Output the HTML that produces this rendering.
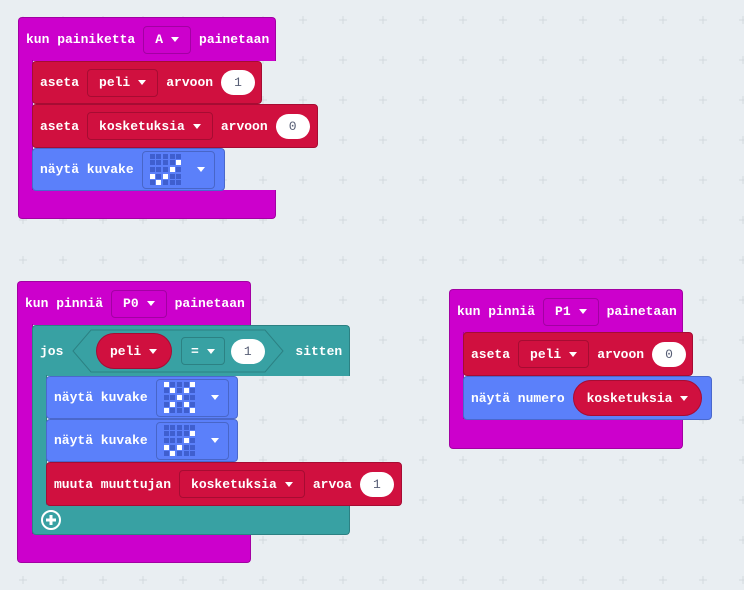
<!DOCTYPE html>
<html><head><meta charset="utf-8"><style>
body{margin:0;width:744px;height:590px;overflow:hidden;background:#e9eef2;position:relative;font-family:"Liberation Mono",monospace;font-weight:bold;font-size:13px;color:#fff}
.grid{position:absolute;left:0;top:0}
.b{position:absolute;box-sizing:border-box;display:flex;align-items:center;padding-left:7px;white-space:pre;border-radius:4px}
.m{background:#cc00cc;border:1px solid #a300a3}
.r{background:#d0103f;border:1px solid #a60c33}
.bl{background:#5b80fa;border:1px solid #4a68cc}
.t{background:#38a1a3;border:1px solid #2c8183}
.dd{display:inline-flex;align-items:center;height:28px;box-sizing:border-box;border:1px solid rgba(0,0,0,.2);border-radius:4px;padding:0 11px;margin:0 8px}
.tri{display:inline-block;width:0;height:0;border-left:4.5px solid transparent;border-right:4.5px solid transparent;border-top:5px solid #fff;margin-left:8px}
.num{display:inline-flex;align-items:center;justify-content:center;background:#fff;color:#575e75;font-weight:normal;height:25px;min-width:34px;border-radius:13px;margin-left:8px}
.pill{display:inline-flex;align-items:center;height:36px;border-radius:18px;background:#d0103f;border:1px solid #a60c33;padding:0 13px;box-sizing:border-box}
.ic{display:inline-flex;align-items:center;height:38px;box-sizing:border-box;border:1px solid rgba(0,0,0,.2);border-radius:4px;padding:0 9px 0 7px;margin-left:8px}
.ic .tri{margin-left:0}
.px{display:grid;grid-template-columns:repeat(5,5px);grid-auto-rows:5px;grid-gap:1.7px;margin-right:16px}
.px i{width:5px;height:5px;background:#3f5fcf}.px i.o{background:#fff}
</style></head><body>
<svg class="grid" width="744" height="590"><defs><pattern id="p" x="3" y="0" width="40" height="40" patternUnits="userSpaceOnUse"><path d="M20 16v8M16 20h8" stroke="#d3d9de" stroke-width="1"/></pattern></defs><rect width="744" height="590" fill="url(#p)"/></svg>

<!-- block 1 -->
<div class="b m" style="left:18px;top:17px;width:258px;height:44px;border-bottom:none;border-radius:4px 4px 0 0">kun painiketta<span class="dd">A<span class="tri"></span></span>painetaan</div>
<div class="b m" style="left:18px;top:60px;width:15px;height:131px;border-top:none;border-bottom:none;border-radius:0"></div>
<div class="b m" style="left:18px;top:190px;width:258px;height:29px;border-top:none;border-radius:0 0 4px 4px"></div>
<div class="b r" style="left:32px;top:61px;width:230px;height:43px">aseta<span class="dd">peli<span class="tri"></span></span>arvoon<span class="num">1</span></div>
<div class="b r" style="left:32px;top:104px;width:286px;height:44px">aseta<span class="dd">kosketuksia<span class="tri"></span></span>arvoon<span class="num">0</span></div>
<div class="b bl" style="left:32px;top:148px;width:193px;height:43px">näytä kuvake<span class="ic"><span class="px"><i></i><i></i><i></i><i></i><i></i><i></i><i></i><i></i><i></i><i class="o"></i><i></i><i></i><i></i><i class="o"></i><i></i><i class="o"></i><i></i><i class="o"></i><i></i><i></i><i></i><i class="o"></i><i></i><i></i><i></i></span><span class="tri"></span></span></div>

<!-- block 2 -->
<div class="b m" style="left:17px;top:281px;width:234px;height:44px;border-bottom:none;border-radius:4px 4px 0 0">kun pinniä<span class="dd">P0<span class="tri"></span></span>painetaan</div>
<div class="b m" style="left:17px;top:324px;width:16px;height:211px;border-top:none;border-bottom:none;border-radius:0"></div>
<div class="b m" style="left:17px;top:534px;width:234px;height:29px;border-top:none;border-radius:0 0 4px 4px"></div>
<div class="b t" style="left:32px;top:325px;width:318px;height:51px;border-bottom:none;border-radius:4px 4px 0 0">jos<svg width="214" height="46" style="margin-left:8px"><path d="M20 2H194L212 23L194 44H20L2 23Z" fill="#38a1a3" stroke="#2c8183"/></svg><span style="margin-left:10px">sitten</span></div>
<div style="position:absolute;left:96px;top:333px;display:flex;align-items:center"><span class="pill" style="width:76px">peli<span class="tri"></span></span><span class="dd" style="border-color:#2c8183;margin-left:9px;margin-right:0;padding:0 9px">=<span class="tri"></span></span><span class="num" style="margin-left:6px">1</span></div>
<div class="b t" style="left:32px;top:375px;width:15px;height:131px;border-top:none;border-bottom:none;border-radius:0"></div>
<div class="b t" style="left:32px;top:505px;width:318px;height:30px;border-top:none;border-radius:0 0 4px 4px"><svg width="22" height="22" style="margin-left:0"><circle cx="11" cy="11" r="9" fill="none" stroke="#fff" stroke-width="2"/><path d="M11 6v10M6 11h10" stroke="#fff" stroke-width="3"/></svg></div>
<div class="b bl" style="left:46px;top:376px;width:192px;height:43px">näytä kuvake<span class="ic"><span class="px"><i class="o"></i><i></i><i></i><i></i><i class="o"></i><i></i><i class="o"></i><i></i><i class="o"></i><i></i><i></i><i></i><i class="o"></i><i></i><i></i><i></i><i class="o"></i><i></i><i class="o"></i><i></i><i class="o"></i><i></i><i></i><i></i><i class="o"></i></span><span class="tri"></span></span></div>
<div class="b bl" style="left:46px;top:419px;width:192px;height:43px">näytä kuvake<span class="ic"><span class="px"><i></i><i></i><i></i><i></i><i></i><i></i><i></i><i></i><i></i><i class="o"></i><i></i><i></i><i></i><i class="o"></i><i></i><i class="o"></i><i></i><i class="o"></i><i></i><i></i><i></i><i class="o"></i><i></i><i></i><i></i></span><span class="tri"></span></span></div>
<div class="b r" style="left:46px;top:462px;width:356px;height:44px">muuta muuttujan<span class="dd">kosketuksia<span class="tri"></span></span>arvoa<span class="num">1</span></div>

<!-- block 3 -->
<div class="b m" style="left:449px;top:289px;width:234px;height:44px;border-bottom:none;border-radius:4px 4px 0 0">kun pinniä<span class="dd">P1<span class="tri"></span></span>painetaan</div>
<div class="b m" style="left:449px;top:332px;width:15px;height:89px;border-top:none;border-bottom:none;border-radius:0"></div>
<div class="b m" style="left:449px;top:419px;width:234px;height:30px;border-top:none;border-radius:0 0 4px 4px"></div>
<div class="b r" style="left:463px;top:332px;width:230px;height:44px">aseta<span class="dd">peli<span class="tri"></span></span>arvoon<span class="num">0</span></div>
<div class="b bl" style="left:463px;top:376px;width:249px;height:44px">näytä numero<span class="pill" style="margin-left:8px">kosketuksia<span class="tri"></span></span></div>
</body></html>
